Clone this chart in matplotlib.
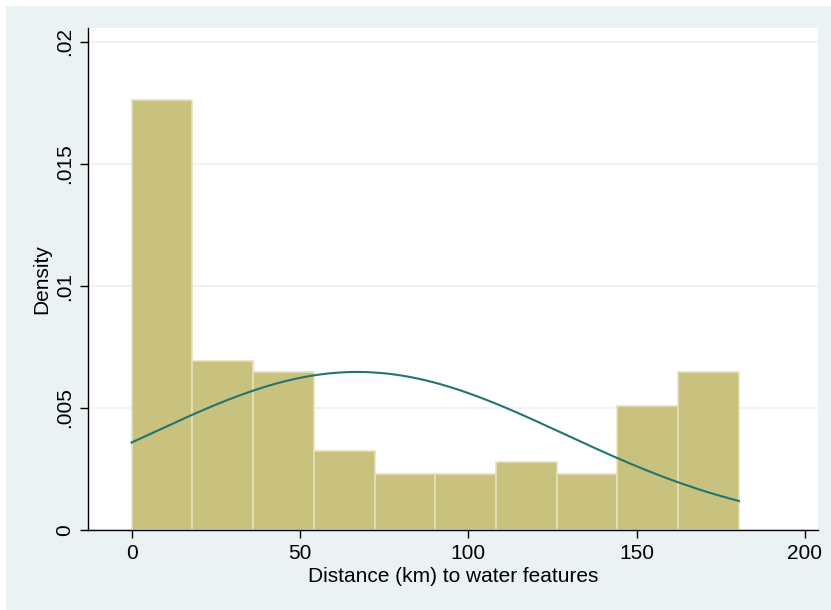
import numpy as np
import matplotlib.pyplot as plt
from matplotlib.patches import Rectangle

# Histogram data (density per bin)
bin_edges = [0.0, 18.04, 36.08, 54.12, 72.16, 90.2, 108.24, 126.28, 144.32, 162.36, 180.4]
densities = [0.01762, 0.00693, 0.00648, 0.00325, 0.00230, 0.00230, 0.00277, 0.00230, 0.00509, 0.00649]

# Normal overlay parameters
norm_mean = 67.0
norm_sd = 61.6

xticks = [0, 50, 100, 150, 200]
yticks = [0, 0.005, 0.01, 0.015, 0.02]
ytick_labels = ["0", ".005", ".01", ".015", ".02"]

bg = "#EAF2F3"
bar_fill = "#C9C27E"
bar_edge = "#E6E0B6"
line_col = "#237470"

plt.rcParams["font.family"] = ["Liberation Sans", "DejaVu Sans"]

fig = plt.figure(figsize=(8.31, 6.10), dpi=100)
fig.patch.set_facecolor("white")
fig.patches.append(Rectangle((6 / 831, 0), 1, 1 - 6 / 610, transform=fig.transFigure,
                             facecolor=bg, edgecolor="none", zorder=-10))

ax = fig.add_axes([88 / 831, 1 - 530 / 610, (818 - 88) / 831, (530 - 28) / 610])
ax.set_facecolor("white")

widths = np.diff(bin_edges)
ax.bar(bin_edges[:-1], densities, width=widths, align="edge",
       color=bar_fill, edgecolor=bar_edge, linewidth=1.2, zorder=2)

xs = np.linspace(bin_edges[0], bin_edges[-1], 300)
ys = np.exp(-(xs - norm_mean) ** 2 / (2 * norm_sd ** 2)) / (norm_sd * np.sqrt(2 * np.pi))
ax.plot(xs, ys, color=line_col, linewidth=1.5, zorder=3)

ax.set_xlim(-12.95, 203.9)
ax.set_ylim(0, 0.02057)

ax.set_xticks(xticks)
ax.set_yticks(yticks)
ax.set_yticklabels(ytick_labels, rotation=90, va="center")
ax.tick_params(axis="both", labelsize=15, length=6, width=1, color="black", pad=4)

ax.grid(axis="y", color=bg, linewidth=1.2, zorder=0)
ax.set_axisbelow(True)

for s in ["top", "right"]:
    ax.spines[s].set_visible(False)
for s in ["left", "bottom"]:
    ax.spines[s].set_color("black")
    ax.spines[s].set_linewidth(1)

ax.set_xlabel("Distance (km) to water features", fontsize=15, labelpad=3)
ax.set_ylabel("Density", fontsize=15, labelpad=3)

fig.savefig("out.png", dpi=100, facecolor=fig.get_facecolor())
